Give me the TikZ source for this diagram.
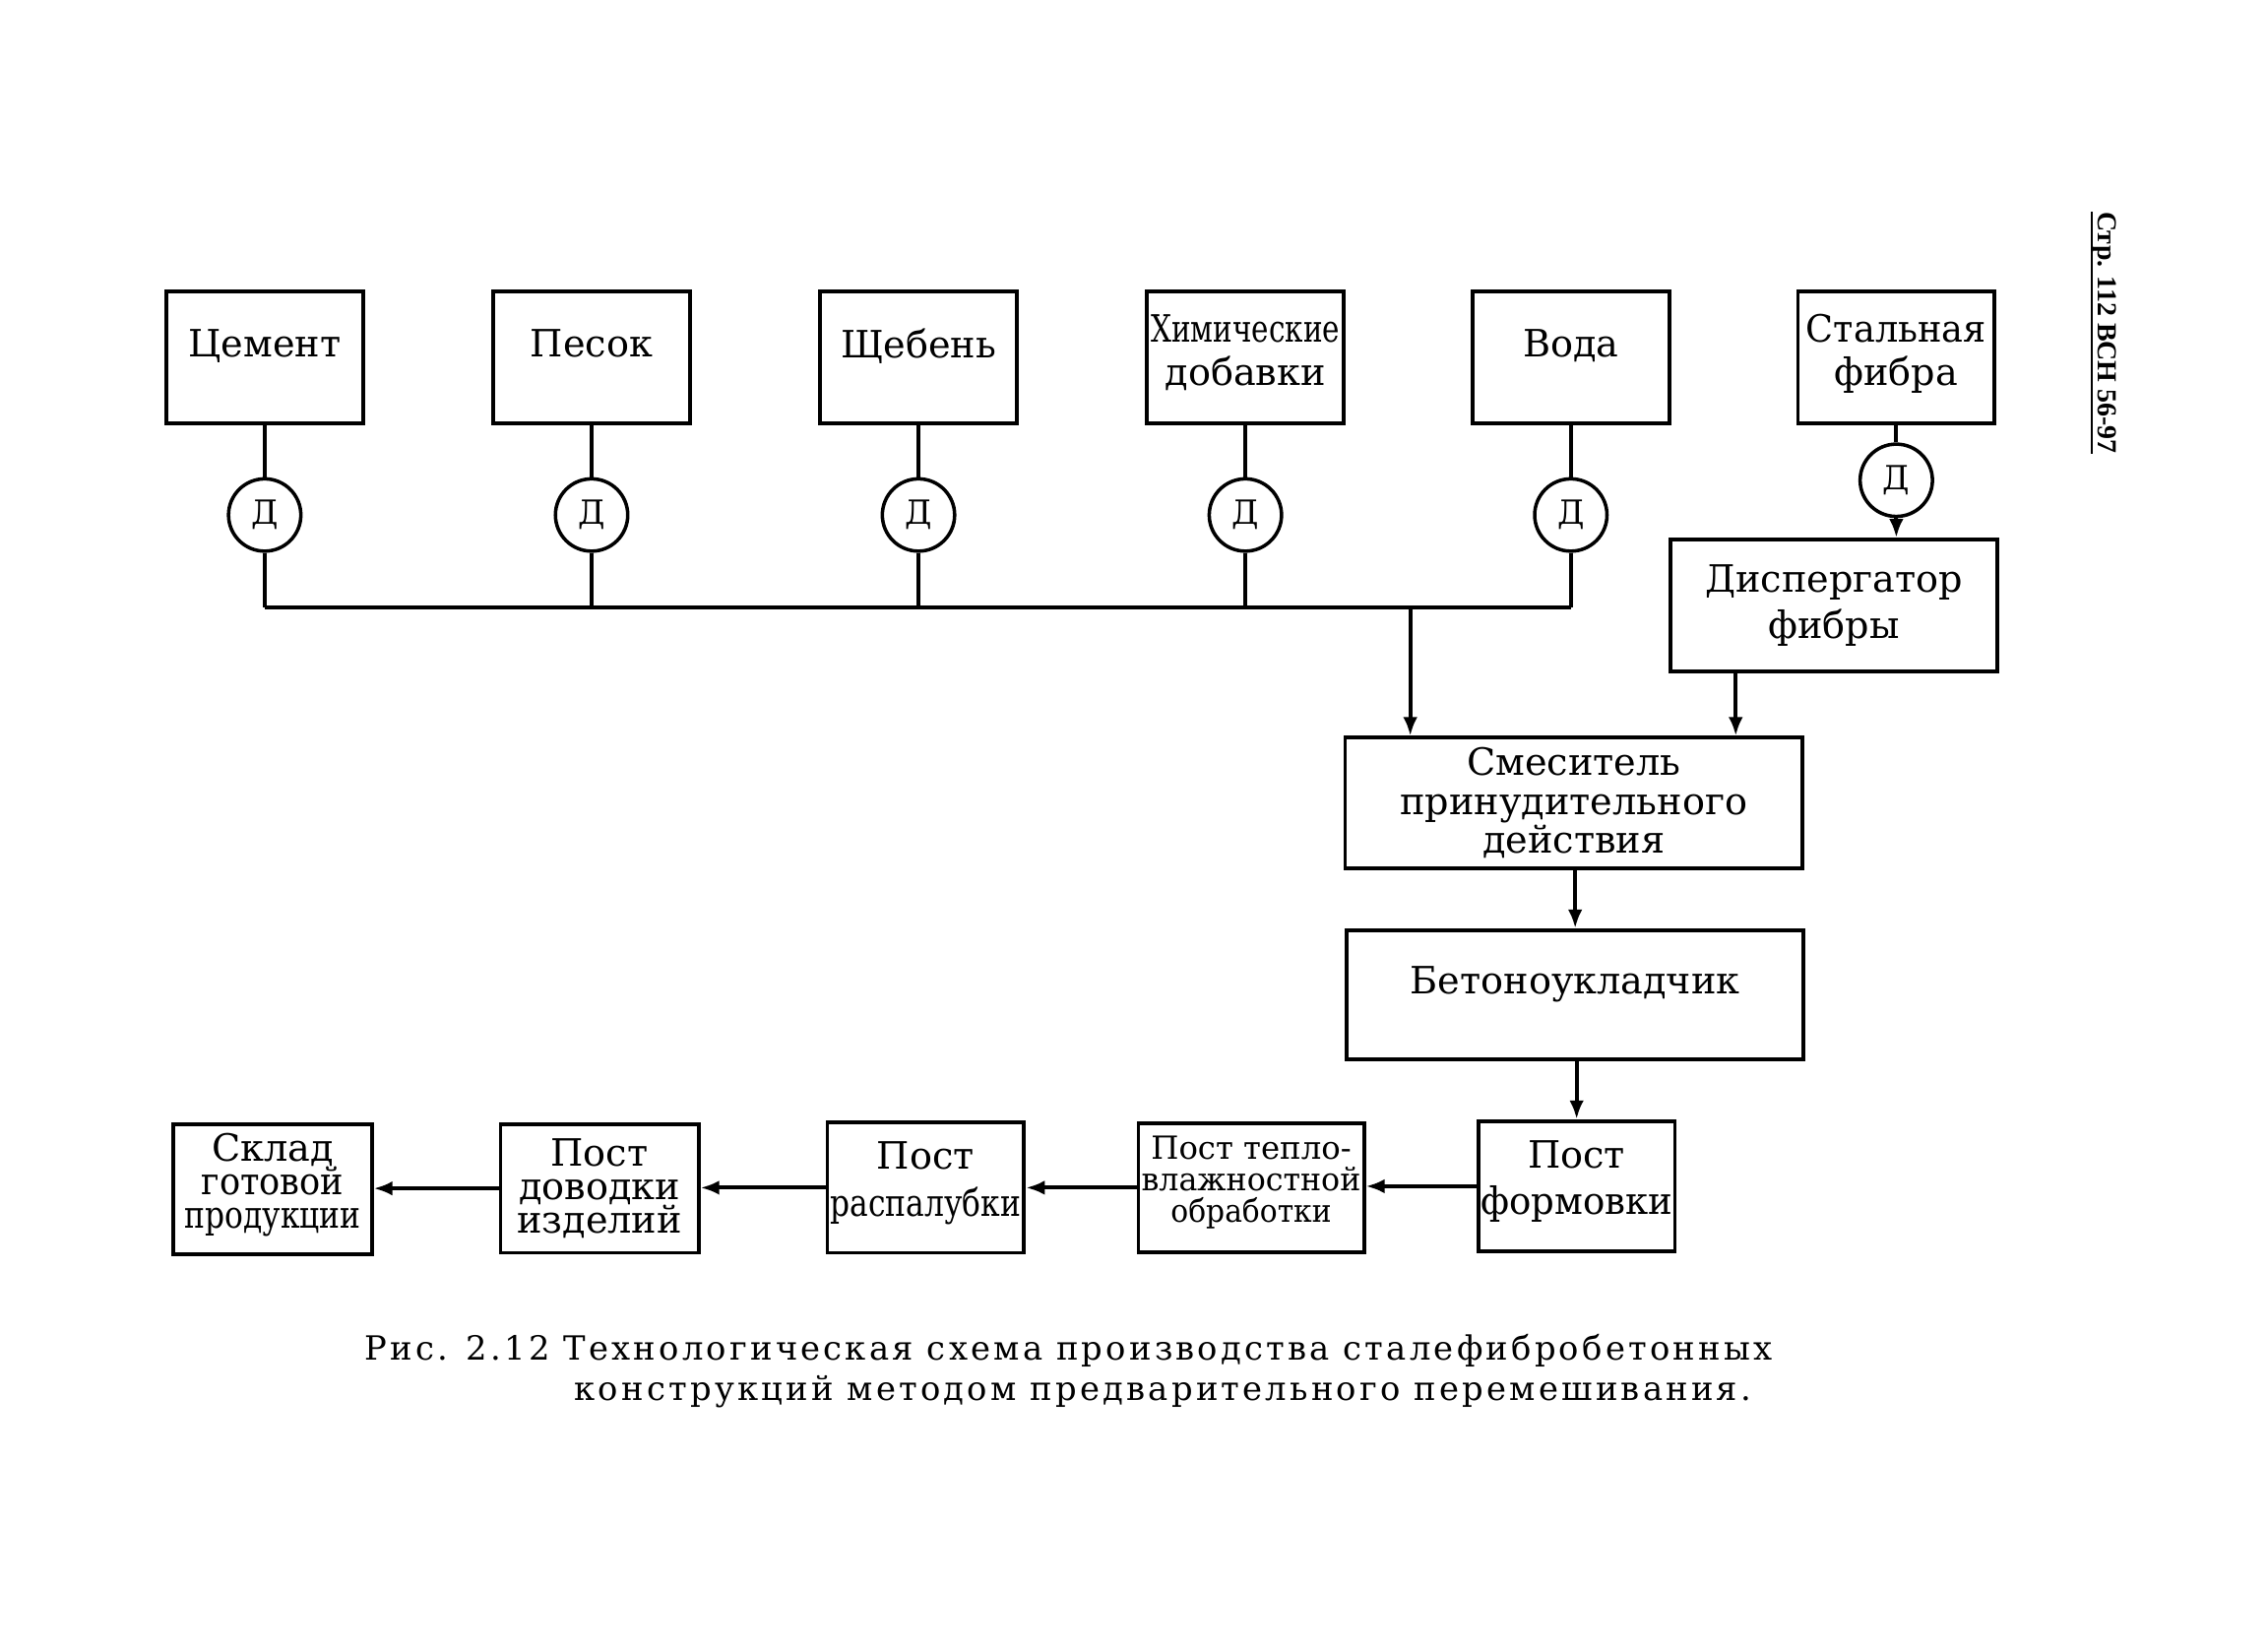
\documentclass[tikz,border=0pt]{standalone}
\usepackage{fontspec}
\usepackage{graphicx}
\setmainfont{DejaVu Serif}
\newfontfamily\sidefont{Liberation Serif}
\newfontfamily\capfont[LetterSpace=9.5]{DejaVu Serif}
\usetikzlibrary{arrows.meta}
\tikzset{
  x=1pt, y=-1pt,
  box/.style={draw, line width=2.6pt, minimum width=136pt, minimum height=91pt, inner sep=0pt, align=center, font=\fontsize{26}{30}\selectfont},
  lift/.style={text depth=20pt},
  doser/.style={draw, circle, line width=2.4pt, minimum size=50pt, inner sep=0pt, font=\fontsize{23}{24}\selectfont},
  link/.style={line width=2.6pt},
  flow/.style={line width=2.6pt, -{Latex[length=13pt,width=10pt]}},
  small/.style={font=\fontsize{22}{22}\selectfont},
  tight/.style={font=\fontsize{26}{23}\selectfont},
}
\newcommand{\hs}[2]{\scalebox{#1}[1]{#2}}
\begin{document}
\begin{tikzpicture}
\useasboundingbox (0,0) rectangle (1568,1141);
% top row sources
\node[box, lift] (cem) at (183,247) {Цемент};
\node[box, lift] (pes) at (409,247) {Песок};
\node[box, lift] (sheb) at (635,247) {Щебень};
\node[box, text depth=10pt] (chem) at (861,247) {\hs{0.77}{Химические}\\добавки};
\node[box, lift] (voda) at (1086,247) {Вода};
\node[box, text depth=10pt] (stal) at (1311,247) {\hs{0.96}{Стальная}\\фибра};
% dosers
\node[doser] (d1) at (183,356) {Д};
\node[doser] (d2) at (409,356) {Д};
\node[doser] (d3) at (635,356) {Д};
\node[doser] (d4) at (861,356) {Д};
\node[doser] (d5) at (1086,356) {Д};
\node[doser] (d6) at (1311,332) {Д};
% processing
\node[box, minimum width=226pt, font=\fontsize{26}{32}\selectfont] (disp) at (1268,418.5) {Диспергатор\\фибры};
\node[box, minimum width=316pt, minimum height=90pt, font=\fontsize{26}{27}\selectfont] (mix) at (1088,555) {Смеситель\\принудительного\\действия};
\node[box, lift, minimum width=316pt, minimum height=89pt] (bet) at (1089,687.5) {Бетоноукладчик};
% bottom row
\node[box, minimum height=90pt, font=\fontsize{26}{32}\selectfont, text depth=12pt] (form) at (1090,820) {Пост\\\hs{0.97}{формовки}};
\node[box, minimum width=156pt, minimum height=89pt, small, text depth=12pt] (teplo) at (865,821) {Пост тепло-\\\hs{0.98}{влажностной}\\\hs{0.92}{обработки}};
\node[box, minimum height=90pt, font=\fontsize{26}{32}\selectfont, text depth=12pt] (rasp) at (640,821) {Пост\\\hs{0.82}{распалубки}};
\node[box, minimum width=137pt, minimum height=89pt, tight] (dov) at (414.5,821.5) {Пост\\доводки\\изделий};
\node[box, minimum width=137pt, minimum height=90pt, tight, text depth=12pt] (skl) at (188.5,822) {Склад\\\hs{0.92}{готовой}\\\hs{0.82}{продукции}};
% bus
\coordinate (bus) at (0,420);
\coordinate (drop) at (975,420);
\coordinate (dx) at (1200,0);
\foreach \s/\d in {cem/d1,pes/d2,sheb/d3,chem/d4,voda/d5}{
  \draw[link] (\s.south) -- (\d.north);
  \draw[link] (\d.south) -- (\d |- bus);
}
\draw[link] (d1 |- bus) -- (d5 |- bus);
\draw[link] (stal.south) -- (d6.north);
\draw[flow] (d6.south) -- (d6 |- disp.north);
\draw[flow] (drop) -- (drop |- mix.north);
\draw[flow] (dx |- disp.south) -- (dx |- mix.north);
\draw[flow] (mix.south -| bet.north) -- (bet.north);
\draw[flow] (bet.south -| form.north) -- (form.north);
\draw[flow] (form.west) -- (form.west -| teplo.east);
\draw[flow] (teplo.west) -- (teplo.west -| rasp.east);
\draw[flow] (rasp.west) -- (rasp.west -| dov.east);
\draw[flow] (dov.west) -- (dov.west -| skl.east);
% caption
\node[anchor=base west, inner sep=0pt, font=\capfont\fontsize{23}{26}\selectfont] (cap1) at (252,940) {Рис. 2.12 Технологическая схема производства сталефибробетонных};
\node[anchor=base west, inner sep=0pt, font=\capfont\fontsize{23}{26}\selectfont] (cap2) at (397,968) {конструкций методом предварительного перемешивания.};
% side reference
\node[rotate=-90, inner sep=0pt, anchor=south, font=\sidefont\bfseries\fontsize{19}{20}\selectfont] (side) at (1446,230) {Стр. 112 ВСН 56-97};
\draw[line width=1.2pt] (side.south west) -- (side.south east);
\end{tikzpicture}
\end{document}
